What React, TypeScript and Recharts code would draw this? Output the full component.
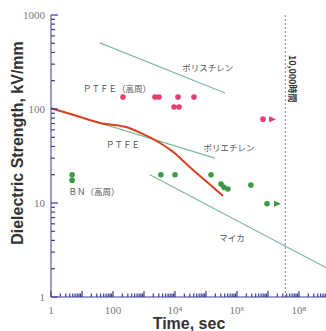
import React from "react";
import {
  ComposedChart,
  Line,
  Scatter,
  XAxis,
  YAxis,
  ReferenceLine,
  ReferenceDot,
} from "recharts";

// time in seconds, dielectric strength in kV/mm
const polystyreneTime = [38, 410000];
const polystyreneKv = [505, 148];

const ptfeFitTime = [1, 195000];
const ptfeFitKv = [102, 30];

const micaTime = [1550, 1e9];
const micaKv = [20, 1.95];

const ptfeTime = [1, 5.1, 38, 280, 740, 3300, 8700, 30500, 108000, 354000];
const ptfeKv = [102, 87, 71, 64, 56, 43.5, 35, 24, 16.7, 11.9];

const ptfeHfTime = [210, 2250, 3040, 12500, 41000, 9300, 13500, 6.9e6];
const ptfeHfKv = [134, 134, 134, 134, 134, 105, 105, 78];
const ptfeHfArrowTime = [1.35e7];
const ptfeHfArrowKv = [78];

const bnTime = [4.8, 4.8, 3500, 10000, 145000, 305000, 380000, 510000, 2.8e6, 9.3e6];
const bnKv = [20, 17.5, 20, 20, 20, 15.9, 14.7, 14.1, 15.5, 9.8];
const bnArrowTime = [1.95e7];
const bnArrowKv = [9.8];

const serviceLimit = 3.6e7; // 10,000 h

const noteText = ["ポリスチレン", "ＰＴＦＥ（高周）", "ＰＴＦＥ", "ポリエチレン", "ＢＮ（高周）", "マイカ"];
const noteTime = [115000, 135, 210, 550000, 24.5, 690000];
const noteKv = [280, 167, 42.5, 39.5, 13.5, 4.35];

const xMajor = [1, 100, 1e4, 1e6, 1e8];
const xMajorLabels = ["1", "100", "10⁴", "10⁶", "10⁸"];
const yMajor = [1, 10, 100, 1000];
const yMajorLabels = ["1", "10", "100", "1000"];

const AXIS = "#3c3c96";
const GREEN_LINE = "#7db99a";
const RED = "#e63c6e";
const GREEN = "#3a9a44";
const TICK_FONT = "'Liberation Serif', 'DejaVu Serif', serif";
const JP_FONT = "'Noto Sans CJK JP', sans-serif";

const pairs = (xs: number[], ys: number[]) => xs.map((x, i) => ({ x, y: ys[i] }));

// every 1..9 x 10^k between lo and hi, for the log minor ticks
function logTicks(lo: number, hi: number) {
  const out: number[] = [];
  for (let k = Math.round(Math.log10(lo)); k < Math.round(Math.log10(hi)); k++) {
    for (let d = 1; d < 10; d++) out.push(d * Math.pow(10, k));
  }
  out.push(hi);
  return out;
}

const isDecade = (v: number) => {
  const l = Math.log10(v);
  return Math.abs(l - Math.round(l)) < 1e-9;
};

// ticks point into the plot: long at decades, short in between
function BottomTick(props: any) {
  const x = Number(props.x);
  const y = Number(props.y);
  const v = props.payload.value;
  const len = isDecade(v) ? 6 : 3.5;
  const i = xMajor.indexOf(v);
  return (
    <g>
      <rect x={x - 0.6} y={y - len} width={1.2} height={len} fill={AXIS} />
      {i >= 0 && (
        <text x={x} y={y + 17} textAnchor="middle" fontSize={11} fill="#777" fontFamily={TICK_FONT}>
          {xMajorLabels[i]}
        </text>
      )}
    </g>
  );
}

function TopTick(props: any) {
  const x = Number(props.x);
  const y = Number(props.y);
  const v = props.payload.value;
  return <rect x={x - 0.6} y={y} width={1.2} height={isDecade(v) ? 6 : 3.5} fill={AXIS} />;
}

function LeftTick(props: any) {
  const x = Number(props.x);
  const y = Number(props.y);
  const v = props.payload.value;
  const i = yMajor.indexOf(v);
  return (
    <g>
      <rect x={x} y={y - 0.6} width={isDecade(v) ? 7 : 4} height={1.2} fill={AXIS} />
      {i >= 0 && (
        <text x={x - 6} y={y + 4} textAnchor="end" fontSize={11} fill="#777" fontFamily={TICK_FONT}>
          {yMajorLabels[i]}
        </text>
      )}
    </g>
  );
}

const dot = (color: string) => (p: any) => <circle cx={p.cx} cy={p.cy} r={2.8} fill={color} />;
const arrow = (color: string) => (p: any) => (
  <path d={`M${p.cx - 3},${p.cy - 3}L${p.cx + 4},${p.cy}L${p.cx - 3},${p.cy + 3}Z`} fill={color} />
);

// text centred on the reference dot, optionally turned 90 degrees
const note = (text: string, color: string, size: number, turn = false) => (props: any) => {
  const vb = props.viewBox || {};
  const cx = vb.x + (vb.width || 0) / 2;
  const cy = vb.y + (vb.height || 0) / 2;
  return (
    <text
      x={cx}
      y={cy}
      transform={turn ? `rotate(90, ${cx}, ${cy})` : undefined}
      textAnchor="middle"
      dominantBaseline="central"
      fontSize={size}
      fill={color}
      fontFamily={JP_FONT}
      fontWeight={turn ? "bold" : "normal"}
    >
      {text}
    </text>
  );
};

export default function App() {
  const xTicks = logTicks(1, 1e9);
  const yTicks = logTicks(1, 1000);

  return (
    <div
      style={{
        position: "fixed",
        left: 0,
        top: 0,
        width: 326,
        height: 331,
        overflow: "hidden",
        background: "#fff",
      }}
    >
      <ComposedChart width={340} height={331} margin={{ top: 15, right: 10, bottom: 0, left: 21 }}>
        <XAxis
          dataKey="x"
          type="number"
          scale="log"
          domain={[1, 1e9]}
          allowDataOverflow
          ticks={xTicks}
          interval={0}
          height={34}
          tickSize={0}
          tickMargin={0}
          tickLine={false}
          axisLine={{ stroke: AXIS }}
          tick={(p: any) => <BottomTick {...p} />}
        />
        <XAxis
          xAxisId="top"
          orientation="top"
          dataKey="x"
          type="number"
          scale="log"
          domain={[1, 1e9]}
          allowDataOverflow
          ticks={xTicks}
          interval={0}
          height={0}
          tickSize={0}
          tickMargin={0}
          tickLine={false}
          axisLine={{ stroke: AXIS, strokeWidth: 1.5 }}
          tick={(p: any) => <TopTick {...p} />}
        />
        <YAxis
          dataKey="y"
          type="number"
          scale="log"
          domain={[1, 1000]}
          allowDataOverflow
          ticks={yTicks}
          interval={0}
          width={30}
          tickSize={0}
          tickMargin={0}
          tickLine={false}
          axisLine={{ stroke: AXIS }}
          tick={(p: any) => <LeftTick {...p} />}
        />

        <ReferenceLine x={serviceLimit} stroke="#8c6fa8" strokeDasharray="2 2" />

        <Line data={pairs(polystyreneTime, polystyreneKv)} dataKey="y" type="linear" stroke={GREEN_LINE} strokeWidth={1.2} dot={false} isAnimationActive={false} />
        <Line data={pairs(ptfeFitTime, ptfeFitKv)} dataKey="y" type="linear" stroke={GREEN_LINE} strokeWidth={1.2} dot={false} isAnimationActive={false} />
        <Line data={pairs(micaTime, micaKv)} dataKey="y" type="linear" stroke={GREEN_LINE} strokeWidth={1.2} dot={false} isAnimationActive={false} />
        <Line data={pairs(ptfeTime, ptfeKv)} dataKey="y" type="monotone" stroke="#d9401f" strokeWidth={2} dot={false} isAnimationActive={false} />

        <Scatter data={pairs(ptfeHfTime, ptfeHfKv)} dataKey="y" shape={dot(RED)} isAnimationActive={false} />
        <Scatter data={pairs(ptfeHfArrowTime, ptfeHfArrowKv)} dataKey="y" shape={arrow(RED)} isAnimationActive={false} />
        <Scatter data={pairs(bnTime, bnKv)} dataKey="y" shape={dot(GREEN)} isAnimationActive={false} />
        <Scatter data={pairs(bnArrowTime, bnArrowKv)} dataKey="y" shape={arrow(GREEN)} isAnimationActive={false} />

        {noteText.map((t, i) => (
          <ReferenceDot
            key={t}
            x={noteTime[i]}
            y={noteKv[i]}
            r={0}
            fill="none"
            stroke="none"
            label={note(t, "#555", 8.5)}
          />
        ))}
        <ReferenceDot
          x={6.4e7}
          y={210}
          r={0}
          fill="none"
          stroke="none"
          label={note("10,000時間", "#333", 9, true)}
        />
      </ComposedChart>

      <svg width={326} height={331} style={{ position: "absolute", left: 0, top: 0, pointerEvents: "none" }}>
        <text
          transform="rotate(-90)"
          x={-143}
          y={23}
          textAnchor="middle"
          fontSize={16}
          fontWeight="bold"
          fill="#333"
          fontFamily="'Liberation Sans', Arial, sans-serif"
        >
          Dielectric Strength, kV/mm
        </text>
        <text
          x={189}
          y={329}
          textAnchor="middle"
          fontSize={16}
          fontWeight="bold"
          fill="#333"
          fontFamily="'Liberation Sans', Arial, sans-serif"
        >
          Time, sec
        </text>
      </svg>
    </div>
  );
}
